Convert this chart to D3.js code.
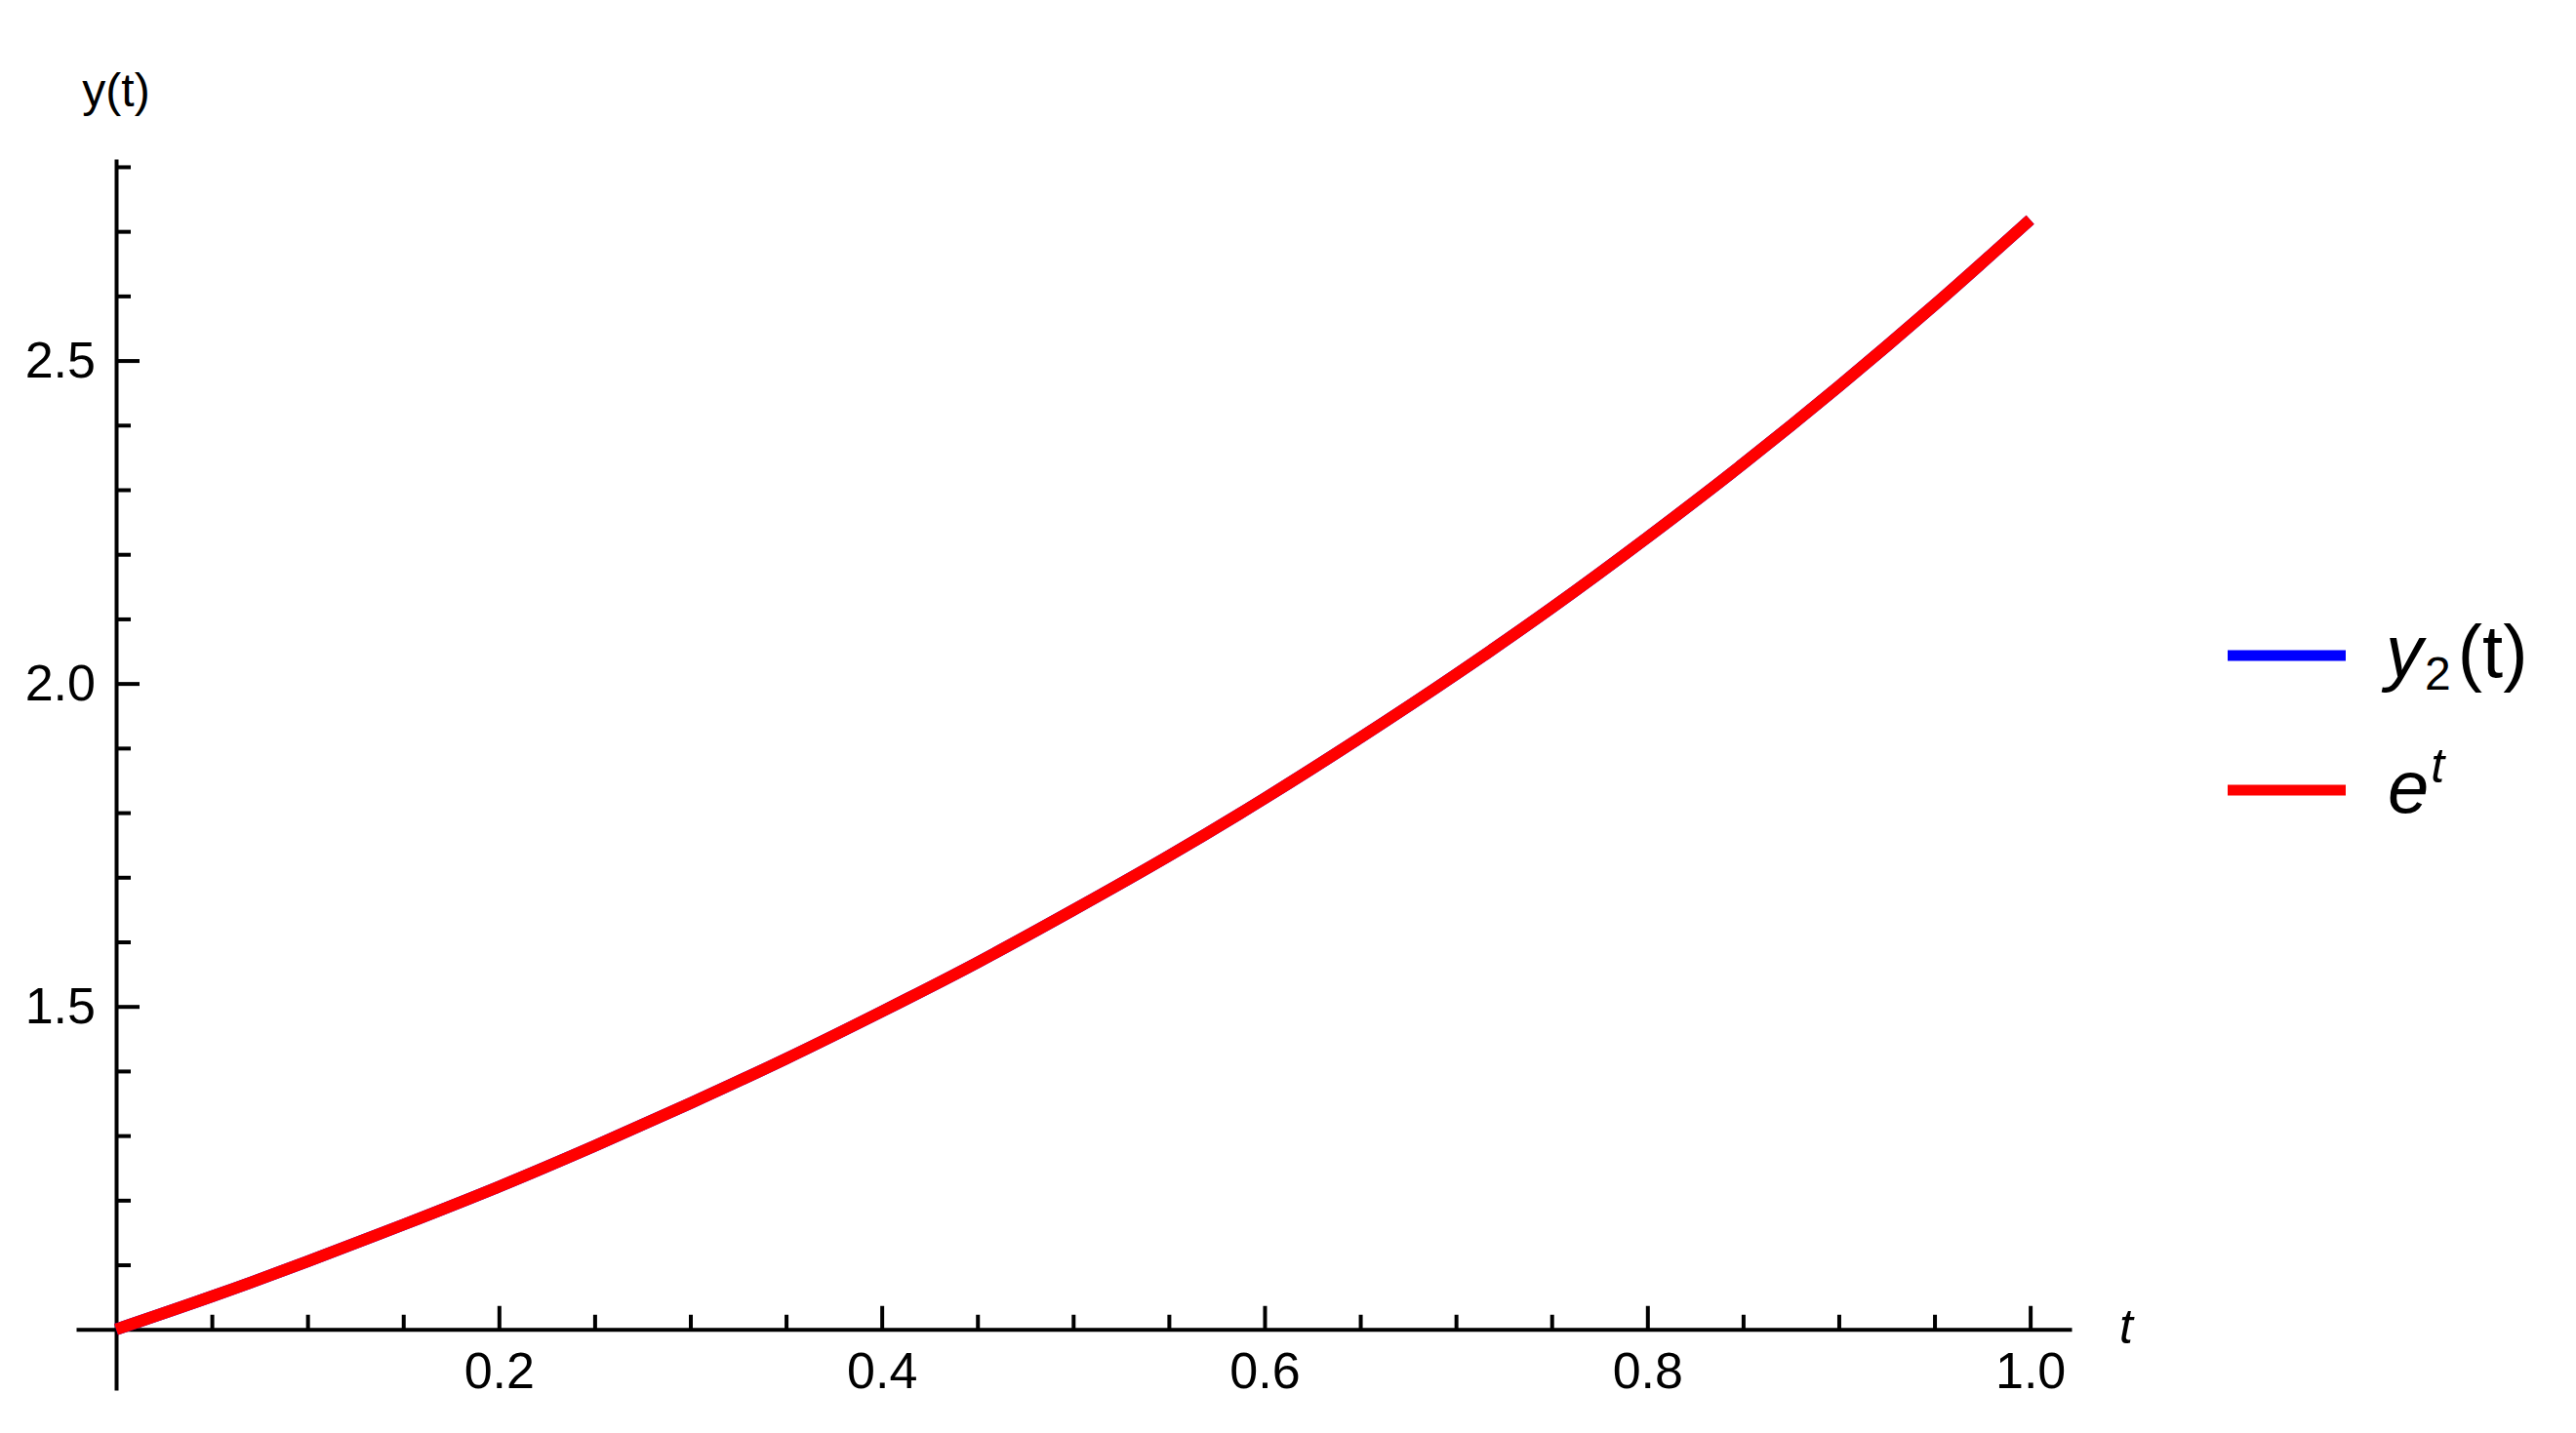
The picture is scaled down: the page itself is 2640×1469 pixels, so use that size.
<!DOCTYPE html>
<html>
<head>
<meta charset="utf-8">
<script src="https://cdn.jsdelivr.net/npm/d3@7"></script>
<style>
  html, body { margin: 0; padding: 0; background: #fff; }
  svg { display: block; }
</style>
</head>
<body>
<script>
// values (both series lie on top of each other)
const tValues = [0, 0.05, 0.1, 0.15, 0.2, 0.25, 0.3, 0.35, 0.4, 0.45, 0.5,
                 0.55, 0.6, 0.65, 0.7, 0.75, 0.8, 0.85, 0.9, 0.95, 1.0];
const y2Values = [1.000, 1.051, 1.105, 1.162, 1.221, 1.284, 1.350, 1.419, 1.492, 1.568, 1.649,
                  1.733, 1.822, 1.916, 2.014, 2.117, 2.226, 2.340, 2.460, 2.586, 2.718];
const expValues = [1.000, 1.051, 1.105, 1.162, 1.221, 1.284, 1.350, 1.419, 1.492, 1.568, 1.649,
                   1.733, 1.822, 1.916, 2.014, 2.117, 2.226, 2.340, 2.460, 2.586, 2.718];

const xMajorTicks = [0.2, 0.4, 0.6, 0.8, 1.0];
const xMinorTicks = [0.05, 0.1, 0.15, 0.25, 0.3, 0.35, 0.45, 0.5, 0.55, 0.65, 0.7, 0.75, 0.85, 0.9, 0.95];
const yMajorTicks = [1.5, 2.0, 2.5];
const yMinorTicks = [1.1, 1.2, 1.3, 1.4, 1.6, 1.7, 1.8, 1.9, 2.1, 2.2, 2.3, 2.4, 2.6, 2.7, 2.8];

const seriesNames = ['y2(t)', 'e^t'];
const seriesColors = ['#0000ff', '#ff0000'];

const svgWidth = 2640;
const svgHeight = 1469;
const font = '"Liberation Sans", Arial, sans-serif';

const svg = d3.select('body')
    .append('svg')
    .attr('width', svgWidth)
    .attr('height', svgHeight);

// plot range includes a bit of padding, like the original
const x = d3.scaleLinear()
    .domain([-0.0209, 1.0216])
    .range([78, 2123]);

const y = d3.scaleLinear()
    .domain([0.906, 2.812])
    .range([1425, 163]);

function styleAxis(g) {
    g.selectAll('path').attr('stroke', '#000').attr('stroke-width', 4);
    g.selectAll('line').attr('stroke', '#000').attr('stroke-width', 4);
    g.selectAll('text')
        .attr('fill', '#000')
        .style('font-family', font)
        .style('font-size', '52px');
}

// x axis (sits at y = 1)
const xAxisG = svg.append('g')
    .attr('transform', `translate(0,${y(1)})`);

xAxisG.append('g')
    .call(d3.axisBottom(x).tickValues(xMinorTicks).tickSize(-15).tickSizeOuter(0).tickFormat(''))
    .call(styleAxis);

xAxisG.append('g')
    .call(d3.axisBottom(x).tickValues(xMajorTicks).tickSize(-24).tickSizeOuter(0)
        .tickPadding(23).tickFormat(d3.format('.1f')))
    .call(styleAxis)
    .call(g => g.select('.domain').remove());

// y axis (sits at t = 0)
const yAxisG = svg.append('g')
    .attr('transform', `translate(${x(0)},0)`);

yAxisG.append('g')
    .call(d3.axisLeft(y).tickValues(yMinorTicks).tickSize(-15).tickSizeOuter(0).tickFormat(''))
    .call(styleAxis);

yAxisG.append('g')
    .call(d3.axisLeft(y).tickValues(yMajorTicks).tickSize(-24).tickSizeOuter(0)
        .tickPadding(21).tickFormat(d3.format('.1f')))
    .call(styleAxis)
    .call(g => g.select('.domain').remove());

// axis labels
svg.append('text')
    .attr('x', x(0))
    .attr('y', 109)
    .attr('text-anchor', 'middle')
    .style('font-family', font)
    .style('font-size', '48px')
    .text('y(t)');

svg.append('text')
    .attr('x', 2172)
    .attr('y', 1377)
    .style('font-family', font)
    .style('font-size', '50px')
    .style('font-style', 'italic')
    .text('t');

// curves
const line = d3.line()
    .x((d, i) => x(tValues[i]))
    .y(d => y(d))
    .curve(d3.curveMonotoneX);

[y2Values, expValues].forEach((vals, i) => {
    svg.append('path')
        .datum(vals)
        .attr('d', line)
        .attr('fill', 'none')
        .attr('stroke', seriesColors[i])
        .attr('stroke-width', 12)
        .attr('stroke-linecap', 'butt');
});

// legend
const legendRows = [672, 810];
const legend = svg.append('g');

legendRows.forEach((ly, i) => {
    legend.append('line')
        .attr('x1', 2283)
        .attr('x2', 2404)
        .attr('y1', ly)
        .attr('y2', ly)
        .attr('stroke', seriesColors[i])
        .attr('stroke-width', 11);
});

const t1 = legend.append('text')
    .attr('x', 2445)
    .attr('y', 694)
    .style('font-family', font)
    .style('font-size', '76px');
t1.append('tspan').style('font-style', 'italic').text('y');
t1.append('tspan').attr('dy', 13).attr('dx', 2).style('font-size', '48px').text('2');
t1.append('tspan').attr('dy', -13).attr('dx', 7).text('(t)');

const t2 = legend.append('text')
    .attr('x', 2447)
    .attr('y', 833)
    .style('font-family', font)
    .style('font-size', '76px');
t2.append('tspan').style('font-style', 'italic').text('e');
t2.append('tspan').attr('dy', -31).attr('dx', 2).style('font-size', '50px').style('font-style', 'italic').text('t');
</script>
</body>
</html>
